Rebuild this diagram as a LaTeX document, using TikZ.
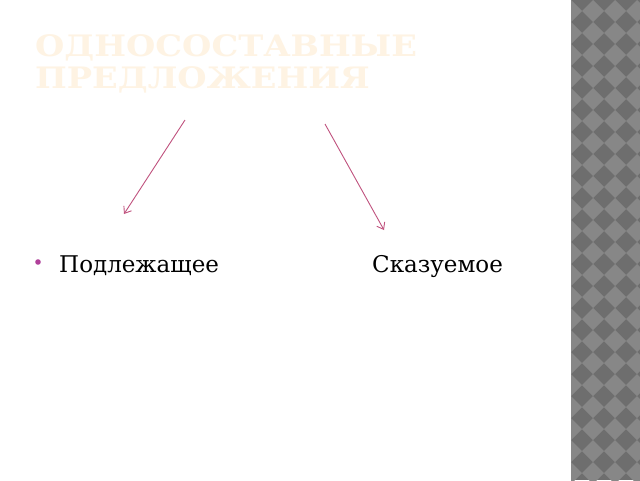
\documentclass[tikz,border=0pt]{standalone}
\usepackage{fontspec}
\setmainfont{DejaVu Serif}
\newfontfamily\headfont[FakeStretch=1.14]{DejaVu Serif}
\usetikzlibrary{arrows.meta}
\definecolor{titlecol}{HTML}{FEF3E3}
\definecolor{arrowcol}{HTML}{C0527E}
\definecolor{bulletcol}{HTML}{B0409A}
\definecolor{darktile}{HTML}{6E6E6E}
\definecolor{lighttile}{HTML}{878787}
\tikzset{
  title/.style={anchor=base west,inner sep=0pt,text=titlecol,font=\headfont\bfseries\fontsize{29.5}{33}\selectfont},
  item/.style={anchor=base west,inner sep=0pt,font=\fontsize{23}{27}\selectfont},
  pointer/.style={draw=arrowcol,line width=0.9pt,-{Straight Barb[length=6pt,width=9pt]}}
}
\begin{document}
\begin{tikzpicture}[x=1pt,y=-1pt]
\useasboundingbox[fill=white] (0,0) rectangle (640,480);
% patterned strip on the right
\fill[darktile] (571,0) rectangle (640,480);
\begin{scope}
\clip (571,0) rectangle (640,480);
\foreach \i in {0,...,4}
  \foreach \j in {0,...,23}
    \fill[lighttile] (560+22*\i,11+22*\j) -- ++(11,-11) -- ++(11,11) -- ++(-11,11) -- cycle;
\end{scope}
% title
\node[title] (line1) at (35,56) {ОДНОСОСТАВНЫЕ};
\node[title] (line2) at (35,88) {ПРЕДЛОЖЕНИЯ};
% two kinds
\fill[bulletcol] (38,262) circle (2.8) coordinate (bullet);
\node[item] (subj) at (59,272) {Подлежащее};
\node[item] (pred) at (372,272) {Сказуемое};
% arrows
\coordinate (a1) at (185,120);
\coordinate (b1) at (124,214);
\coordinate (a2) at (325,124);
\coordinate (b2) at (384,230);
\draw[pointer] (a1) -- (b1);
\draw[pointer] (a2) -- (b2);
\end{tikzpicture}
\end{document}
